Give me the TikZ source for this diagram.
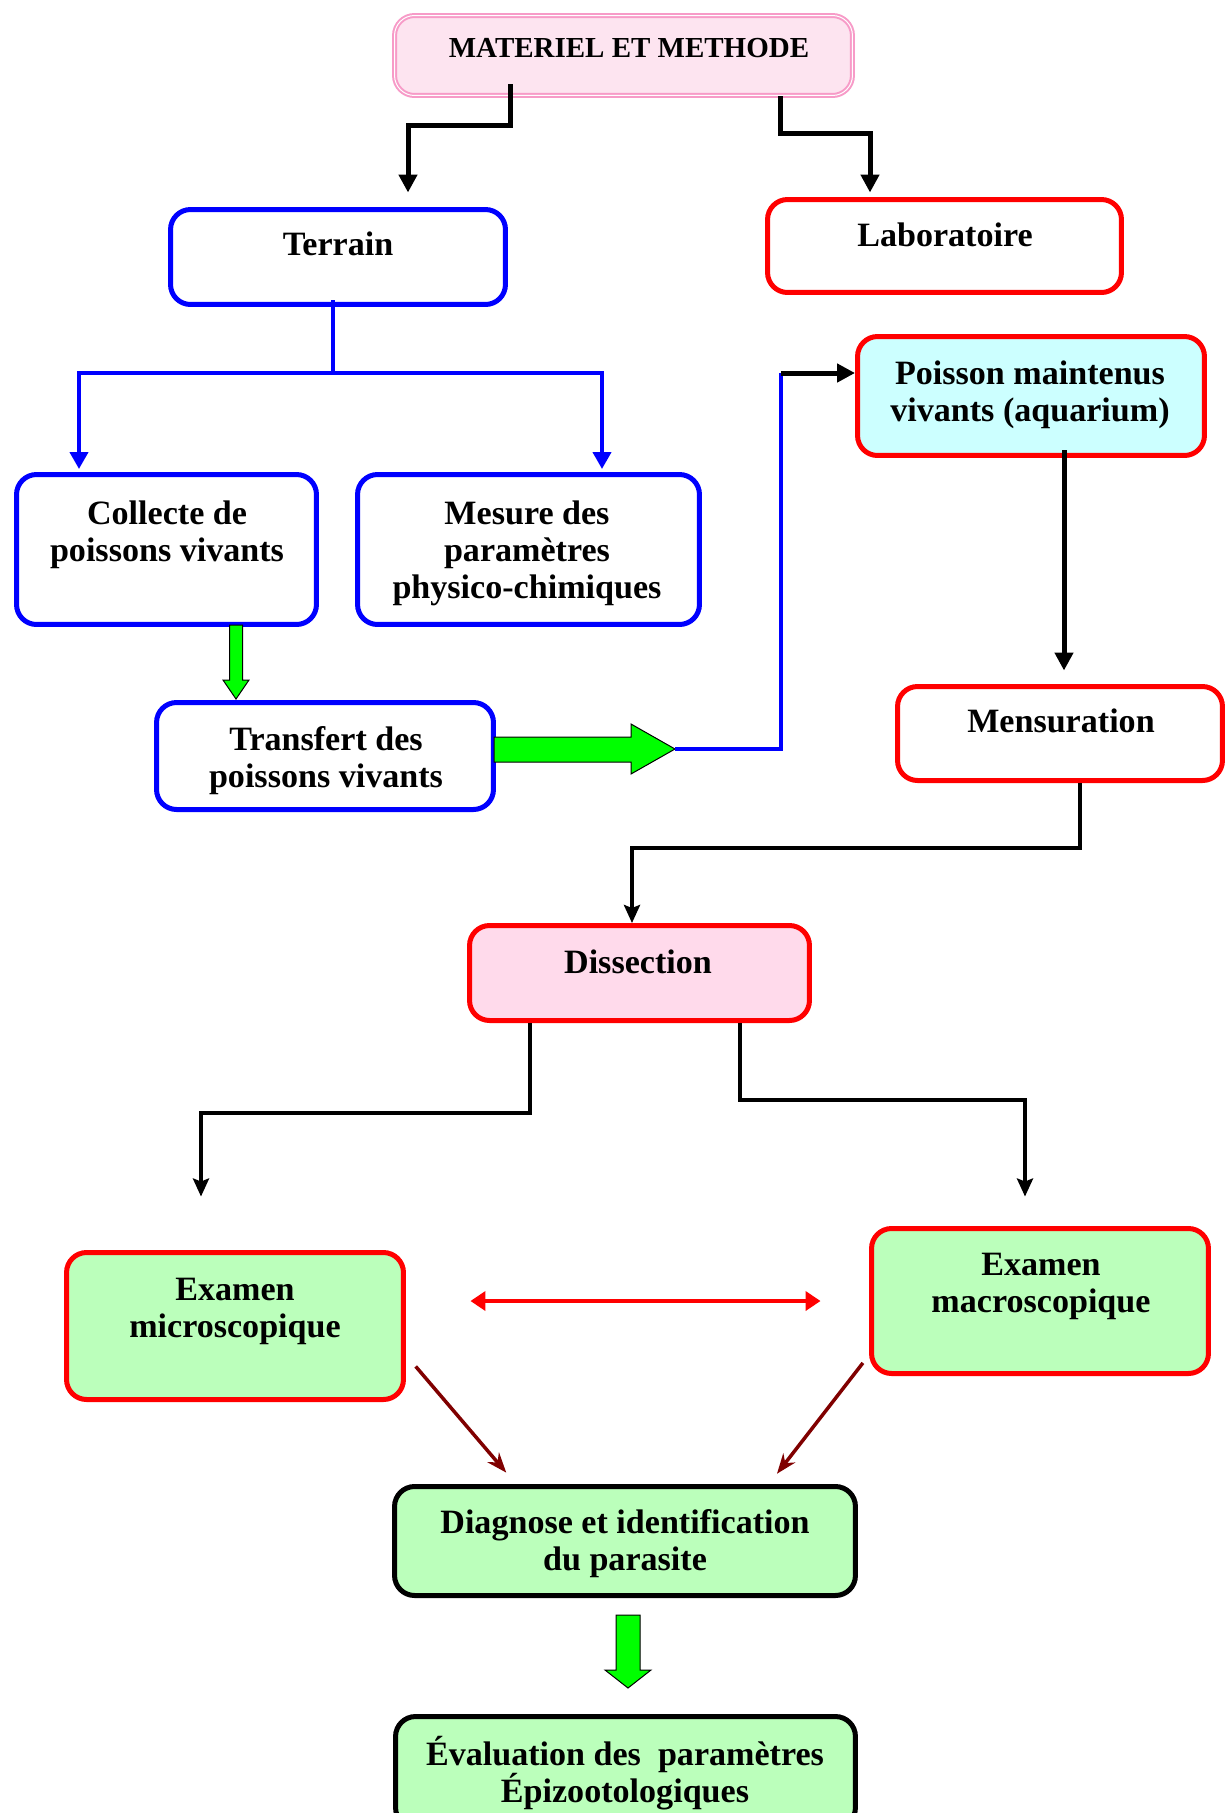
\documentclass[tikz,border=0pt]{standalone}
\usepackage{fontspec}
\setmainfont{Liberation Serif}
\usetikzlibrary{arrows.meta}

\definecolor{titlepink}{RGB}{247,155,200}
\definecolor{titlefill}{RGB}{253,228,240}
\definecolor{pinkfill}{RGB}{255,218,235}
\definecolor{aquafill}{RGB}{204,255,255}
\definecolor{leaffill}{RGB}{187,255,187}
\definecolor{arrowgreen}{RGB}{0,255,0}
\definecolor{darkred}{RGB}{128,0,0}

\tikzset{
  box/.style={rectangle, rounded corners=0.4cm, line width=0.1cm, inner sep=0pt},
  bluebox/.style={box, draw=blue, fill=white},
  redbox/.style={box, draw=red, fill=white},
  txt/.style={align=center, inner sep=0pt,
    font=\fontsize{19.4pt}{21pt}\selectfont\bfseries},
  blkarrow/.style={line width=0.1cm, -{Triangle[length=0.36cm,width=0.36cm]}},
  blueline/.style={draw=blue, line width=0.08cm},
  bluearrow/.style={blueline, -{Triangle[length=0.34cm,width=0.36cm]}},
  thinarrow/.style={line width=0.09cm, -{Stealth[length=0.36cm,width=0.32cm,inset=0.06cm]}},
  redarrow/.style={draw=red, line width=0.08cm,
    {Triangle[length=0.3cm,width=0.38cm]}-{Triangle[length=0.3cm,width=0.38cm]}},
  darkarrow/.style={draw=darkred, line width=0.07cm, -{Stealth[length=0.4cm,width=0.3cm]}},
  greenblock/.style={draw=black, line width=0.02cm, fill=arrowgreen, line join=miter}
}

\begin{document}
\begin{tikzpicture}[x=0.02cm, y=-0.02cm]
  \useasboundingbox (0,0) rectangle (1227,1813);
  \clip (0,0) rectangle (1227,1813);

  % boxes
  \node[box, draw=titlepink, fill=titlefill, line width=0.04cm, double=white,
    double distance=0.02cm, minimum width=9.16cm, minimum height=1.6cm] (materiel) at (623.5,55.5) {};
  \node[bluebox, minimum width=6.7cm, minimum height=1.9cm] (terrain) at (338,257) {};
  \node[redbox, minimum width=7.08cm, minimum height=1.86cm] (labo) at (944.5,246) {};
  \node[bluebox, minimum width=6cm, minimum height=3cm] (collecte) at (166.5,549.5) {};
  \node[bluebox, minimum width=6.84cm, minimum height=3cm] (mesure) at (528.5,549.5) {};
  \node[bluebox, minimum width=6.74cm, minimum height=2.14cm] (transfert) at (325,756) {};
  \node[redbox, fill=aquafill, minimum width=6.94cm, minimum height=2.38cm] (poisson) at (1031,396) {};
  \node[redbox, minimum width=6.5cm, minimum height=1.88cm] (mensuration) at (1060,733.5) {};
  \node[redbox, fill=pinkfill, minimum width=6.8cm, minimum height=1.9cm] (dissection) at (639.5,973) {};
  \node[redbox, fill=leaffill, minimum width=6.74cm, minimum height=2.94cm] (micro) at (235,1326) {};
  \node[redbox, fill=leaffill, minimum width=6.74cm, minimum height=2.9cm] (macro) at (1040,1301) {};
  \node[box, draw=black, fill=leaffill, minimum width=9.22cm, minimum height=2.18cm] (diagnose) at (625,1541) {};
  \node[box, draw=black, fill=leaffill, minimum width=9.2cm, minimum height=2.22cm] (evaluation) at (625.5,1772) {};

  % texts
  \node[txt, font=\fontsize{16.5pt}{20pt}\selectfont\bfseries] (materiel-t) at (629,48) {MATERIEL ET METHODE};
  \node[txt] (terrain-t) at (338,244) {Terrain};
  \node[txt] (labo-t) at (945,235) {Laboratoire};
  \node[txt] (collecte-t) at (167,535) {Collecte de\\poissons vivants};
  \node[txt] (mesure-t) at (527,553.5) {Mesure des\\paramètres\\physico-chimiques};
  \node[txt] (transfert-t) at (326,760.5) {Transfert des\\poissons vivants};
  \node[txt] (poisson-t) at (1030,394.5) {Poisson maintenus\\vivants (aquarium)};
  \node[txt] (mensuration-t) at (1061,721) {Mensuration};
  \node[txt] (dissection-t) at (638,962) {Dissection};
  \node[txt] (micro-t) at (235,1311.5) {Examen\\microscopique};
  \node[txt] (macro-t) at (1041,1286.5) {Examen\\macroscopique};
  \node[txt] (diagnose-t) at (625,1543.5) {Diagnose et identification\\du parasite};
  \node[txt] (evaluation-t) at (625,1773) {Évaluation des~ paramètres\\Épizootologiques};

  % connectors
  \draw[blkarrow, shorten <=-0.25cm, shorten >=0.29cm] (materiel.south -| 510,0) |- (408,125) -- (terrain.north -| 408,0);
  \draw[blkarrow, shorten >=0.09cm] (materiel.south -| 780,0) |- (870,133) -- (labo.north -| 870,0);
  \draw[bluearrow, shorten <=-0.13cm, shorten >=0.06cm] (terrain.south -| 333,0) |- (79,373) -- (collecte.north -| 79,0);
  \draw[bluearrow, shorten <=-0.13cm, shorten >=0.06cm] (terrain.south -| 333,0) |- (602,373) -- (mesure.north -| 602,0);

  % green block arrows
  \draw[greenblock] (229.5,625) -- (242.5,625) -- (242.5,680) -- (249,680) -- (236,699)
    -- (223,680) -- (229.5,680) -- cycle;
  \draw[greenblock] (494,737) -- (631,737) -- (631,724) -- (675,749) -- (631,774)
    -- (631,762) -- (494,762) -- cycle;
  \draw[greenblock] (616,1615) -- (640,1615) -- (640,1670) -- (651,1670) -- (628,1688)
    -- (605,1670) -- (616,1670) -- cycle;

  \coordinate (gtip) at (675,749);
  \coordinate (turn) at (781,373);
  \draw[blueline] (gtip) -| (turn);
  \draw[blkarrow] (turn) -- (poisson.west |- turn);
  \draw[blkarrow, shorten <=-0.15cm, shorten >=0.27cm] (poisson.south -| 1064,0) -- (mensuration.north -| 1064,0);
  \draw[thinarrow] (mensuration.south -| 1080,0) |- (632,848) -- (dissection.north -| 632,0);
  \draw[thinarrow, shorten >=1.07cm] (dissection.south -| 530,0) |- (201,1113) -- (micro.north -| 201,0);
  \draw[thinarrow, shorten >=0.59cm] (dissection.south -| 740,0) |- (1025,1100) -- (macro.north -| 1025,0);
  \draw[redarrow, shorten <=1.29cm, shorten >=0.97cm] (micro.east |- 0,1301) -- (macro.west |- 0,1301);
  \draw[darkarrow, shorten <=0.3cm, shorten >=0.3cm] (micro.east |- 0,1355) -- (diagnose.north -| 516,0);
  \draw[darkarrow, shorten <=0.2cm, shorten >=0.26cm] (macro.west |- 0,1355) -- (diagnose.north -| 769,0);
\end{tikzpicture}
\end{document}
